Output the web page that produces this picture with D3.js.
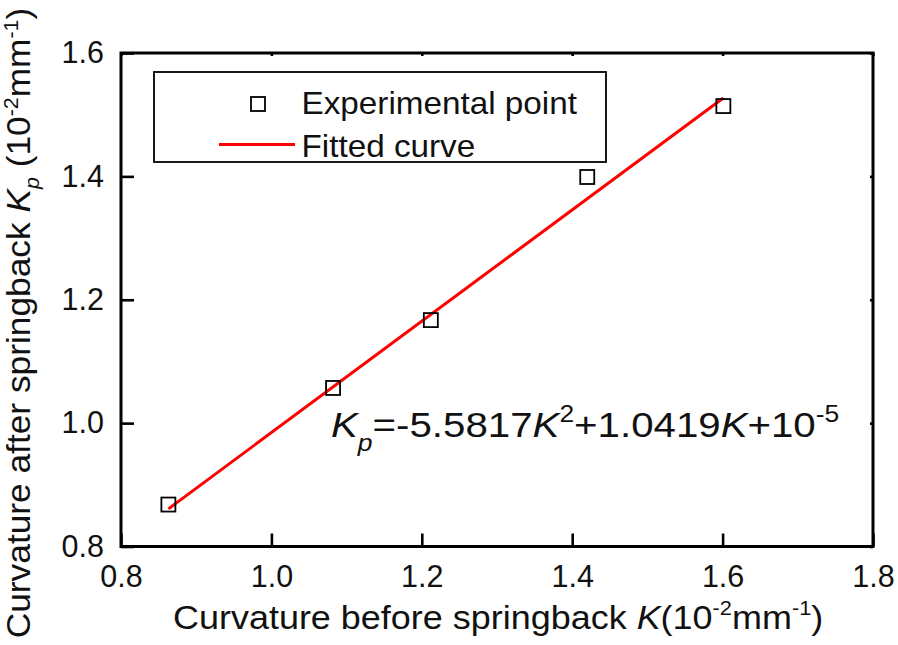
<!DOCTYPE html>
<html><head><meta charset="utf-8">
<script src="https://cdn.jsdelivr.net/npm/d3@7"></script>
<style>body{margin:0;background:#fff}svg{display:block;font-family:"Liberation Sans",Arial,sans-serif}</style>
</head><body>
<svg id="c" width="898" height="645"></svg>
<script>
const expX = [0.863, 1.082, 1.212, 1.420, 1.601];
const expY = [0.868, 1.057, 1.167, 1.399, 1.514];
const fitX = [0.863, 1.601];
const fitY = [0.861, 1.527];
const xTicks = [0.8, 1.0, 1.2, 1.4, 1.6, 1.8];
const yTicks = [0.8, 1.0, 1.2, 1.4, 1.6];
const legendLabels = ["Experimental point", "Fitted curve"];

const svg = d3.select("#c");
const L = 121, R = 873, T = 53, B = 546.5;
const x = d3.scaleLinear().domain([0.8, 1.8]).range([L, R]);
const y = d3.scaleLinear().domain([0.8, 1.6]).range([B, T]);
const fmt = d3.format(".1f");

// axes
const xAxis = svg.append("g").attr("transform", `translate(0,${B})`)
  .call(d3.axisBottom(x).tickValues(xTicks).tickFormat(fmt).tickSize(-13).tickPadding(19));
const yAxis = svg.append("g").attr("transform", `translate(${L},0)`)
  .call(d3.axisLeft(y).tickValues(yTicks).tickFormat(fmt).tickSize(-13).tickPadding(17));
svg.append("g").attr("transform", `translate(0,${T})`)
  .call(d3.axisTop(x).tickValues(xTicks).tickFormat("").tickSize(-3));
svg.append("g").attr("transform", `translate(${R},0)`)
  .call(d3.axisRight(y).tickValues(yTicks).tickFormat("").tickSize(-3));
svg.selectAll(".domain").remove();
svg.selectAll(".tick line").attr("stroke", "#000").attr("stroke-width", 2.6);
svg.selectAll(".tick text").attr("font-size", 30.5).attr("fill", "#111").attr("font-family", "Liberation Sans, Arial, sans-serif");
svg.append("rect").attr("x", L).attr("y", T).attr("width", R - L).attr("height", B - T)
  .attr("fill", "none").attr("stroke", "#000").attr("stroke-width", 3);

// fitted line
svg.append("path").datum(fitX.map((d, i) => [d, fitY[i]]))
  .attr("d", d3.line().x(d => x(d[0])).y(d => y(d[1])))
  .attr("fill", "none").attr("stroke", "#ff0000").attr("stroke-width", 3);

// points
const s = 14;
svg.selectAll("rect.pt").data(expX.map((d, i) => [d, expY[i]])).join("rect")
  .attr("class", "pt")
  .attr("x", d => x(d[0]) - s / 2).attr("y", d => y(d[1]) - s / 2)
  .attr("width", s).attr("height", s)
  .attr("fill", "none").attr("stroke", "#000").attr("stroke-width", 1.8);

// legend
svg.append("rect").attr("x", 154).attr("y", 72).attr("width", 452).attr("height", 90)
  .attr("fill", "#fff").attr("stroke", "#000").attr("stroke-width", 1.8);
svg.append("rect").attr("x", 258 - 7).attr("y", 104 - 7).attr("width", 14).attr("height", 14)
  .attr("fill", "none").attr("stroke", "#000").attr("stroke-width", 1.8);
svg.append("line").attr("x1", 219).attr("x2", 295).attr("y1", 144.5).attr("y2", 144.5)
  .attr("stroke", "#ff0000").attr("stroke-width", 3);
svg.selectAll("text.leg").data(legendLabels).join("text").attr("class", "leg")
  .attr("transform", (d, i) => `translate(301.5,${114 + i * 42.5}) scale(1.04,1)`)
  .attr("font-size", 32).attr("fill", "#111").text(d => d);

// x title
const xt = svg.append("text").attr("transform", "translate(173,629) scale(1.09,1)")
  .attr("font-size", 33).attr("fill", "#111");
xt.append("tspan").text("Curvature before springback ");
xt.append("tspan").attr("font-style", "italic").text("K");
xt.append("tspan").text("(10");
xt.append("tspan").attr("font-size", 20).attr("dy", -14).text("-2");
xt.append("tspan").attr("dy", 14).text("mm");
xt.append("tspan").attr("font-size", 20).attr("dy", -14).text("-1");
xt.append("tspan").attr("dy", 14).text(")");

// y title
const yt = svg.append("text").attr("transform", "translate(30,323) rotate(-90) scale(1.07,1)")
  .attr("text-anchor", "middle").attr("font-size", 33).attr("fill", "#111");
yt.append("tspan").text("Curvature after springback ");
yt.append("tspan").attr("font-style", "italic").text("K");
yt.append("tspan").attr("font-style", "italic").attr("font-size", 20).attr("dy", 9).text("p");
yt.append("tspan").attr("dy", -9).text(" (10");
yt.append("tspan").attr("font-size", 20).attr("dy", -12).text("-2");
yt.append("tspan").attr("dy", 12).text("mm");
yt.append("tspan").attr("font-size", 20).attr("dy", -12).text("-1");
yt.append("tspan").attr("dy", 12).text(")");

// formula
const ft = svg.append("text").attr("transform", "translate(331,437) scale(1.15,1)")
  .attr("font-size", 35).attr("fill", "#111");
ft.append("tspan").attr("font-style", "italic").text("K");
ft.append("tspan").attr("font-style", "italic").attr("font-size", 23).attr("dy", 14).text("p");
ft.append("tspan").attr("dy", -14).text("=-5.5817");
ft.append("tspan").attr("font-style", "italic").text("K");
ft.append("tspan").attr("font-size", 23).attr("dy", -15).text("2");
ft.append("tspan").attr("dy", 15).text("+1.0419");
ft.append("tspan").attr("font-style", "italic").text("K");
ft.append("tspan").text("+10");
ft.append("tspan").attr("font-size", 23).attr("dy", -15).text("-5");
</script>
</body></html>
